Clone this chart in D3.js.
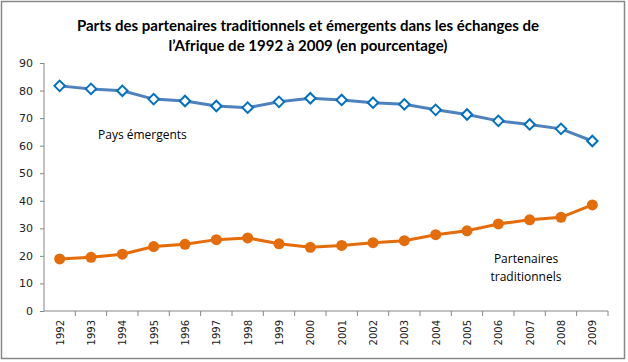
<!DOCTYPE html>
<html>
<head>
<meta charset="utf-8">
<script src="https://cdn.jsdelivr.net/npm/d3@7"></script>
<style>
  body { margin: 0; background: #fff; }
  .axis path, .axis line { stroke: #868686; }
  .axis text { fill: #222; font-family: "DejaVu Sans", sans-serif; }
</style>
</head>
<body>
<div class="chart_area"></div>
<script>
// donnees
var years = ["1992","1993","1994","1995","1996","1997","1998","1999","2000",
             "2001","2002","2003","2004","2005","2006","2007","2008","2009"];
var emergents = [81.7, 80.6, 79.9, 76.9, 76.2, 74.4, 73.8, 75.9, 77.2,
                 76.6, 75.6, 75.0, 73.0, 71.3, 69.0, 67.7, 66.1, 61.7];
var traditionnels = [18.9, 19.5, 20.6, 23.4, 24.2, 25.9, 26.5, 24.4, 23.1,
                     23.8, 24.8, 25.5, 27.7, 29.1, 31.6, 33.1, 34.0, 38.5];
var yTicks = [0, 10, 20, 30, 40, 50, 60, 70, 80, 90];
var titleLines = ["Parts des partenaires traditionnels  et émergents dans les échanges de",
                  "l’Afrique de 1992 à 2009 (en pourcentage)"];

var width = 628, height = 362;
var margin = {left: 44, right: 20, top: 63, bottom: 51};

var svg = d3.select(".chart_area").append("svg")
  .attr("width", width)
  .attr("height", height);

svg.append("rect")
  .attr("x", 1.5).attr("y", 1.5)
  .attr("width", width - 5).attr("height", height - 5)
  .attr("fill", "#fff")
  .attr("stroke", "#888")
  .attr("stroke-width", 1.5);

svg.selectAll(".title")
  .data(titleLines)
  .enter().append("text")
  .attr("class", "title")
  .attr("x", 308)
  .attr("y", function (d, i) { return 31 + i * 20; })
  .attr("text-anchor", "middle")
  .style("font-family", "Lato, sans-serif")
  .style("font-weight", "bold")
  .style("font-size", "15px")
  .style("fill", "#000")
  .text(function (d) { return d; });

var x = d3.scaleBand()
  .domain(years)
  .range([margin.left, width - margin.right]);

var y = d3.scaleLinear()
  .domain([0, 90])
  .range([height - margin.bottom, margin.top]);

// axe Y
var gy = svg.append("g")
  .attr("class", "axis")
  .attr("transform", "translate(" + margin.left + ",0)")
  .call(d3.axisLeft(y).tickValues(yTicks).tickSize(4).tickPadding(7));
gy.select(".domain").attr("d", "M0," + y(90) + "V" + y(0));
gy.selectAll("text").style("font-size", "11px");

// axe X : graduations entre les categories
var gx = svg.append("g")
  .attr("class", "axis")
  .attr("transform", "translate(0," + y(0) + ")");
gx.append("line")
  .attr("x1", margin.left).attr("x2", width - margin.right)
  .attr("y1", 0).attr("y2", 0);
gx.selectAll(".tk")
  .data(years)
  .enter().append("line")
  .attr("class", "tk")
  .attr("x1", function (d) { return x(d) + x.bandwidth(); })
  .attr("x2", function (d) { return x(d) + x.bandwidth(); })
  .attr("y1", 0).attr("y2", 5);
gx.selectAll(".lbl")
  .data(years)
  .enter().append("text")
  .attr("class", "lbl")
  .attr("transform", function (d) {
    return "translate(" + (x(d) + x.bandwidth() / 2 + 4) + ",9) rotate(-90)";
  })
  .attr("text-anchor", "end")
  .style("font-size", "10px")
  .text(function (d) { return d; });

function cx(d, i) { return x(years[i]) + x.bandwidth() / 2; }

var line = d3.line()
  .x(function (d, i) { return cx(d, i); })
  .y(function (d) { return y(d); });

// Pays emergents
svg.append("path")
  .datum(emergents)
  .attr("d", line)
  .attr("fill", "none")
  .attr("stroke", "#4F81BD")
  .attr("stroke-width", 3);

svg.selectAll(".diamond")
  .data(emergents)
  .enter().append("path")
  .attr("class", "diamond")
  .attr("d", d3.symbol().type(d3.symbolDiamond2).size(70))
  .attr("transform", function (d, i) { return "translate(" + cx(d, i) + "," + y(d) + ")"; })
  .attr("fill", "#fff")
  .attr("stroke", "#0070C0")
  .attr("stroke-width", 2);

// Partenaires traditionnels
svg.append("path")
  .datum(traditionnels)
  .attr("d", line)
  .attr("fill", "none")
  .attr("stroke", "#E46C0A")
  .attr("stroke-width", 3);

svg.selectAll(".dot")
  .data(traditionnels)
  .enter().append("circle")
  .attr("class", "dot")
  .attr("cx", function (d, i) { return cx(d, i); })
  .attr("cy", function (d) { return y(d); })
  .attr("r", 5.5)
  .attr("fill", "#E46C0A");

var lblStyle = function (sel) {
  sel.style("font-family", "'Open Sans', sans-serif")
    .style("font-size", "12px")
    .style("fill", "#000");
};

svg.append("text")
  .attr("x", 98).attr("y", 139)
  .call(lblStyle)
  .text("Pays émergents");

svg.selectAll(".trad")
  .data(["Partenaires", "traditionnels"])
  .enter().append("text")
  .attr("class", "trad")
  .attr("x", 526)
  .attr("y", function (d, i) { return 263 + i * 18; })
  .attr("text-anchor", "middle")
  .call(lblStyle)
  .text(function (d) { return d; });
</script>
</body>
</html>
